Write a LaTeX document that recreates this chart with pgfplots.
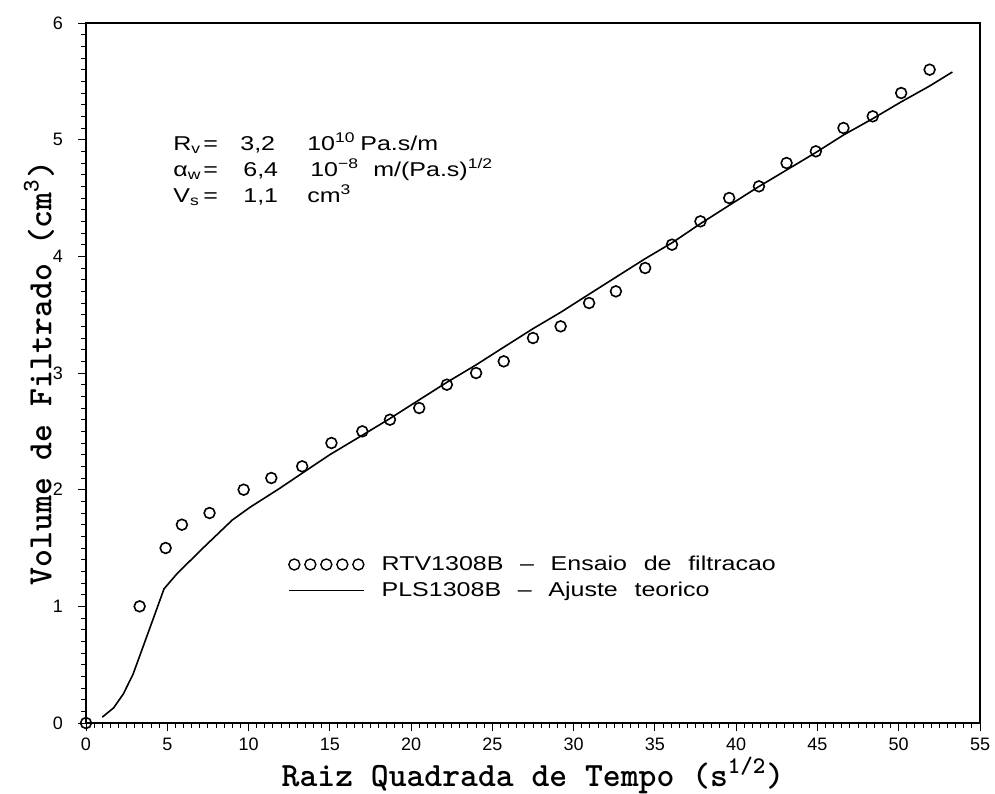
\documentclass[border=0pt]{standalone}
\usepackage{fontspec}
\setmainfont{Liberation Sans}
\newfontfamily\plotfont[FakeStretch=1.25, WordSpace=2.4]{Liberation Sans}
\newfontfamily\labfont{lmmonolt10-bold.otf}
\usepackage{pgfplots}
\pgfplotsset{compat=1.18}

\begin{document}
\begin{tikzpicture}
\begin{axis}[
  name=ax,
  scale only axis, width=447pt, height=350pt,
  xmin=0, xmax=55, ymin=0, ymax=6,
  xtick={0,5,...,55}, ytick={0,...,6},
  minor x tick num=9, minor y tick num=9,
  tick pos=left, tick align=outside,
  major tick length=4pt, minor tick length=2.5pt,
  axis line style={line width=0.75pt},
  every tick/.style={black, line width=0.5pt},
  ticklabel style={font=\fontsize{9}{10}\selectfont},
  yticklabel style={xshift=-4pt},
  /pgf/number format/assume math mode=true,
  xlabel={Raiz Quadrada de Tempo (s\textsuperscript{1/2})},
  ylabel={Volume de Filtrado (cm\textsuperscript{3})},
  label style={font=\labfont\fontsize{17}{19}\selectfont},
  xlabel style={at={(axis description cs:0.5,-0.09)}, anchor=base},
  ylabel style={at={(axis description cs:-0.0526,0.5)}, anchor=center},
  clip=false,
  legend style={draw=none, fill=none, at={(axis cs:12.43,1.44)}, anchor=north west,
    font=\plotfont\fontsize{10}{12}\selectfont, inner sep=0pt, outer sep=0pt,
    row sep=3.5pt, column sep=8.5pt,
    nodes={inner sep=0pt, text height=7.5pt, text depth=2pt}},
  legend cell align=left,
]
\addplot[only marks, mark=o, mark size=2.7pt, mark options={line width=0.8pt}, black,
  legend image code/.code={
    \foreach \i in {0,...,4}{\draw[line width=0.7pt] (\i*8pt+2.75pt,0pt) circle (2.75pt);}}]
coordinates {
(0,0) (3.3,1.0) (4.9,1.5) (5.9,1.7) (7.6,1.8) (9.7,2.0) (11.4,2.1) (13.3,2.2)
(15.1,2.4) (17.0,2.5) (18.7,2.6) (20.5,2.7) (22.2,2.9) (24.0,3.0) (25.7,3.1)
(27.5,3.3) (29.2,3.4) (30.95,3.6) (32.6,3.7) (34.4,3.9) (36.05,4.1) (37.8,4.3)
(39.57,4.5) (41.4,4.6) (43.1,4.8) (44.9,4.9) (46.6,5.1) (48.4,5.2) (50.15,5.4) (51.9,5.6)
};
\addlegendentry{RTV1308B – Ensaio de filtracao}
\addplot[line width=0.8pt, black,
  legend image code/.code={
    \draw[line width=0.8pt] (0pt,0pt) -- (37.5pt,0pt);}]
coordinates {
(1.0,0.05) (1.7,0.13) (2.3,0.25) (2.9,0.42) (3.5,0.65) (4.1,0.88) (4.8,1.15)
(5.6,1.28) (6.4,1.39) (7.2,1.50) (8.1,1.62) (9.0,1.74) (10.1,1.85) (11.9,2.01)
(13.5,2.16) (15.0,2.30) (16.8,2.45) (18.7,2.61) (20.5,2.77) (22.2,2.92) (24.0,3.07)
(25.8,3.23) (27.5,3.38) (29.2,3.52) (31.0,3.68) (32.7,3.83) (34.4,3.98) (36.1,4.12)
(37.8,4.28) (39.6,4.44) (41.3,4.59) (43.1,4.74) (44.9,4.89) (46.6,5.04) (48.4,5.18)
(50.1,5.32) (51.9,5.46) (53.3,5.58)
};
\addlegendentry{PLS1308B – Ajuste teorico}
\node[anchor=base west, font=\plotfont\fontsize{10}{12}\selectfont, inner sep=0pt]
  at (axis cs:5.35,4.91) {\makebox[15pt][l]{R\textsubscript{v}}\makebox[18.5pt][l]{=}\makebox[33.5pt][l]{3,2}\makebox[26.5pt][l]{10\textsuperscript{10}}Pa.s/m};
\node[anchor=base west, font=\plotfont\fontsize{10}{12}\selectfont, inner sep=0pt]
  at (axis cs:5.35,4.687) {\makebox[15pt][l]{α\textsubscript{w}}\makebox[20pt][l]{=}\makebox[33.5pt][l]{6,4}\makebox[31.5pt][l]{10\textsuperscript{−8}}m/(Pa.s)\textsuperscript{1/2}};
\node[anchor=base west, font=\plotfont\fontsize{10}{12}\selectfont, inner sep=0pt]
  at (axis cs:5.35,4.465) {\makebox[15pt][l]{V\textsubscript{s}}\makebox[20pt][l]{=}\makebox[32pt][l]{1,1}cm\textsuperscript{3}};
\end{axis}
\pgfresetboundingbox
\path ([shift={(-43pt,-35pt)}]ax.south west) rectangle ([shift={(7.5pt,11.5pt)}]ax.north east);
\end{tikzpicture}
\end{document}
